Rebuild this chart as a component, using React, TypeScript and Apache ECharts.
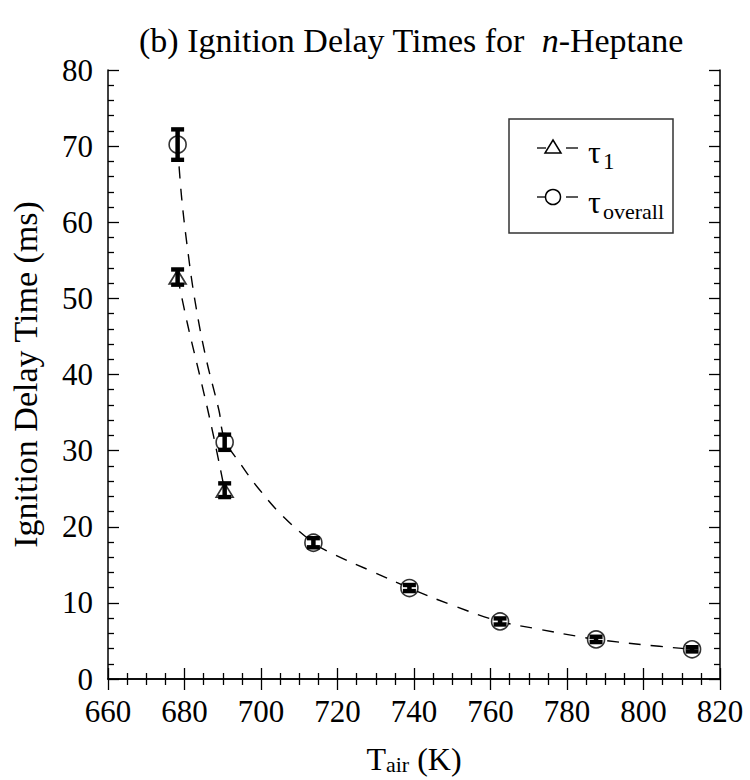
import React, { useEffect, useRef } from "react";
import * as echarts from "echarts";

const FONT = "'Liberation Serif', 'Times New Roman', serif";

// Measured data (T_air in K, delay in ms)
const overallTemps = [678.2, 690.5, 713.7, 738.8, 762.5, 787.6, 812.7];
const overallTau = [70.2, 31.1, 17.9, 11.95, 7.56, 5.2, 3.9];
const overallErr = [2.0, 1.0, 0.6, 0.4, 0.4, 0.35, 0.28];

const tau1Temps = [678.2, 690.5];
const tau1Tau = [52.8, 24.8];
const tau1Err = [1.0, 0.9];

// Dashed fit curves
const overallCurveT = [678.2, 679.2, 680.8, 682.8, 685.6, 689.0, 690.5, 695.0, 699.4, 705.5, 713.7, 718.9, 729.2, 738.8, 750.5, 762.5, 772.0, 782.8, 787.6, 800.0, 812.7];
const overallCurveV = [70.2, 63.5, 56.5, 49.5, 42.2, 35.3, 31.5, 28.0, 25.0, 21.5, 17.9, 16.4, 14.1, 11.95, 9.6, 7.56, 6.6, 5.6, 5.2, 4.5, 3.9];

const tau1CurveT = [678.2, 680.8, 684.3, 687.3, 690.5];
const tau1CurveV = [52.8, 46.6, 39.2, 32.6, 24.8];

const xTicks = { min: 660, max: 820, step: 20 };
const yTicks = { min: 0, max: 80, step: 10 };

const pairs = (a: number[], b: number[]) => a.map((v, i) => [v, b[i]]);

export default function App() {
  const ref = useRef<HTMLDivElement>(null);
  useEffect(() => {
    if (!ref.current) return;
    const chart = echarts.init(ref.current, null, { renderer: "svg" });

    const axisCommon = {
      type: "value" as const,
      axisLine: { show: true, lineStyle: { color: "#000", width: 1.5 } },
      axisTick: { show: true, inside: true, length: 11, lineStyle: { color: "#000", width: 1.3 } },
      minorTick: { show: true, length: 6, lineStyle: { color: "#000", width: 1.3 } },
      splitLine: { show: false },
    };

    const errRender = (params: any, api: any) => {
      const x = api.value(0);
      const y = api.value(1);
      const e = api.value(2);
      const top = api.coord([x, y + e]);
      const bot = api.coord([x, y - e]);
      const capW = 13;
      const capH = 4.4;
      return {
        type: "group",
        children: [
          { type: "line", shape: { x1: top[0], y1: top[1], x2: bot[0], y2: bot[1] }, style: { stroke: "#000", lineWidth: 4.5 } },
          { type: "rect", shape: { x: top[0] - capW / 2, y: top[1] - capH / 2, width: capW, height: capH }, style: { fill: "#000" } },
          { type: "rect", shape: { x: bot[0] - capW / 2, y: bot[1] - capH / 2, width: capW, height: capH }, style: { fill: "#000" } },
        ],
      };
    };

    const lx = 537, rx = 578;
    const legY1 = 148, legY2 = 197;
    const textStyle = { fontFamily: FONT, fill: "#000" };

    chart.setOption({
      animation: false,
      backgroundColor: "#fff",
      grid: { left: 103, right: 30, top: 70, bottom: 96 },
      xAxis: [
        {
          ...axisCommon,
          position: "bottom",
          min: xTicks.min, max: xTicks.max, interval: xTicks.step,
          minorTick: { ...axisCommon.minorTick, splitNumber: 4 },
          axisLabel: { color: "#000", fontFamily: FONT, fontSize: 31, margin: 17 },
          name: "{a|T}{b|air}{a| (K)}",
          nameLocation: "middle",
          nameGap: 56,
          nameTextStyle: {
            rich: {
              a: { fontFamily: FONT, fontSize: 32, color: "#000", lineHeight: 40, verticalAlign: "bottom" },
              b: { fontFamily: FONT, fontSize: 22, color: "#000", lineHeight: 22, verticalAlign: "bottom" },
            },
          },
        },
        {
          ...axisCommon,
          position: "top",
          min: xTicks.min, max: xTicks.max, interval: xTicks.step,
          minorTick: { ...axisCommon.minorTick, splitNumber: 4 },
          axisLabel: { show: false },
        },
      ],
      yAxis: [
        {
          ...axisCommon,
          position: "left",
          min: yTicks.min, max: yTicks.max, interval: yTicks.step,
          minorTick: { ...axisCommon.minorTick, splitNumber: 5 },
          axisLabel: { color: "#000", fontFamily: FONT, fontSize: 31, margin: 15 },
          name: "Ignition Delay Time (ms)",
          nameLocation: "middle",
          nameGap: 66,
          nameTextStyle: { color: "#000", fontFamily: FONT, fontSize: 34 },
        },
        {
          ...axisCommon,
          position: "right",
          min: yTicks.min, max: yTicks.max, interval: yTicks.step,
          minorTick: { ...axisCommon.minorTick, splitNumber: 5 },
          axisLabel: { show: false },
        },
      ],
      series: [
        {
          type: "line",
          data: pairs(overallCurveT, overallCurveV),
          smooth: 0.4,
          symbol: "none",
          lineStyle: { color: "#000", width: 1.4, type: [12, 10] },
          z: 1,
        },
        {
          type: "line",
          data: pairs(tau1CurveT, tau1CurveV),
          smooth: 0.4,
          symbol: "none",
          lineStyle: { color: "#000", width: 1.4, type: [12, 10] },
          z: 1,
        },
        {
          type: "scatter",
          data: pairs(overallTemps, overallTau),
          symbol: "circle",
          symbolSize: 17,
          itemStyle: { color: "#fff", borderColor: "#000", borderWidth: 1.6 },
          z: 2,
        },
        {
          type: "scatter",
          data: pairs(tau1Temps, tau1Tau),
          symbol: "triangle",
          symbolSize: [17, 14],
          itemStyle: { color: "#fff", borderColor: "#000", borderWidth: 1.6 },
          z: 2,
        },
        {
          type: "custom",
          renderItem: errRender,
          data: overallTemps.map((t, i) => [t, overallTau[i], overallErr[i]]),
          z: 3,
        },
        {
          type: "custom",
          renderItem: errRender,
          data: tau1Temps.map((t, i) => [t, tau1Tau[i], tau1Err[i]]),
          z: 3,
        },
      ],
      graphic: [
        {
          type: "text",
          x: 411,
          y: 40,
          style: {
            text: "(b) Ignition Delay Times for  {i|n}-Heptane",
            fontFamily: FONT,
            fontSize: 34,
            fill: "#000",
            align: "center",
            verticalAlign: "middle",
            rich: { i: { fontFamily: FONT, fontSize: 34, fontStyle: "italic", fill: "#000" } },
          },
        },
        {
          type: "rect",
          shape: { x: 509, y: 119, width: 164, height: 114 },
          style: { fill: "#fff", stroke: "#333", lineWidth: 1.5 },
        },
        { type: "line", shape: { x1: lx, y1: legY1, x2: lx + 9, y2: legY1 }, style: { stroke: "#000", lineWidth: 1.3 } },
        { type: "line", shape: { x1: rx - 12, y1: legY1, x2: rx, y2: legY1 }, style: { stroke: "#000", lineWidth: 1.3 } },
        {
          type: "polygon",
          shape: { points: [[553, legY1 - 8], [561, legY1 + 5], [545, legY1 + 5]] },
          style: { fill: "#fff", stroke: "#000", lineWidth: 1.5 },
        },
        { type: "line", shape: { x1: lx, y1: legY2, x2: lx + 9, y2: legY2 }, style: { stroke: "#000", lineWidth: 1.3 } },
        { type: "line", shape: { x1: rx - 12, y1: legY2, x2: rx, y2: legY2 }, style: { stroke: "#000", lineWidth: 1.3 } },
        {
          type: "circle",
          shape: { cx: 553, cy: legY2, r: 7.5 },
          style: { fill: "#fff", stroke: "#000", lineWidth: 1.5 },
        },
        { type: "text", x: 588, y: 152, style: { ...textStyle, text: "τ", fontSize: 32, verticalAlign: "middle" } },
        { type: "text", x: 603, y: 161, style: { ...textStyle, text: "1", fontSize: 23, verticalAlign: "middle" } },
        { type: "text", x: 588, y: 202, style: { ...textStyle, text: "τ", fontSize: 32, verticalAlign: "middle" } },
        { type: "text", x: 603, y: 211, style: { ...textStyle, text: "overall", fontSize: 22, verticalAlign: "middle" } },
      ],
    });
    return () => chart.dispose();
  }, []);
  return <div ref={ref} style={{ position: "absolute", left: 0, top: 0, width: 750, height: 780 }} />;
}
